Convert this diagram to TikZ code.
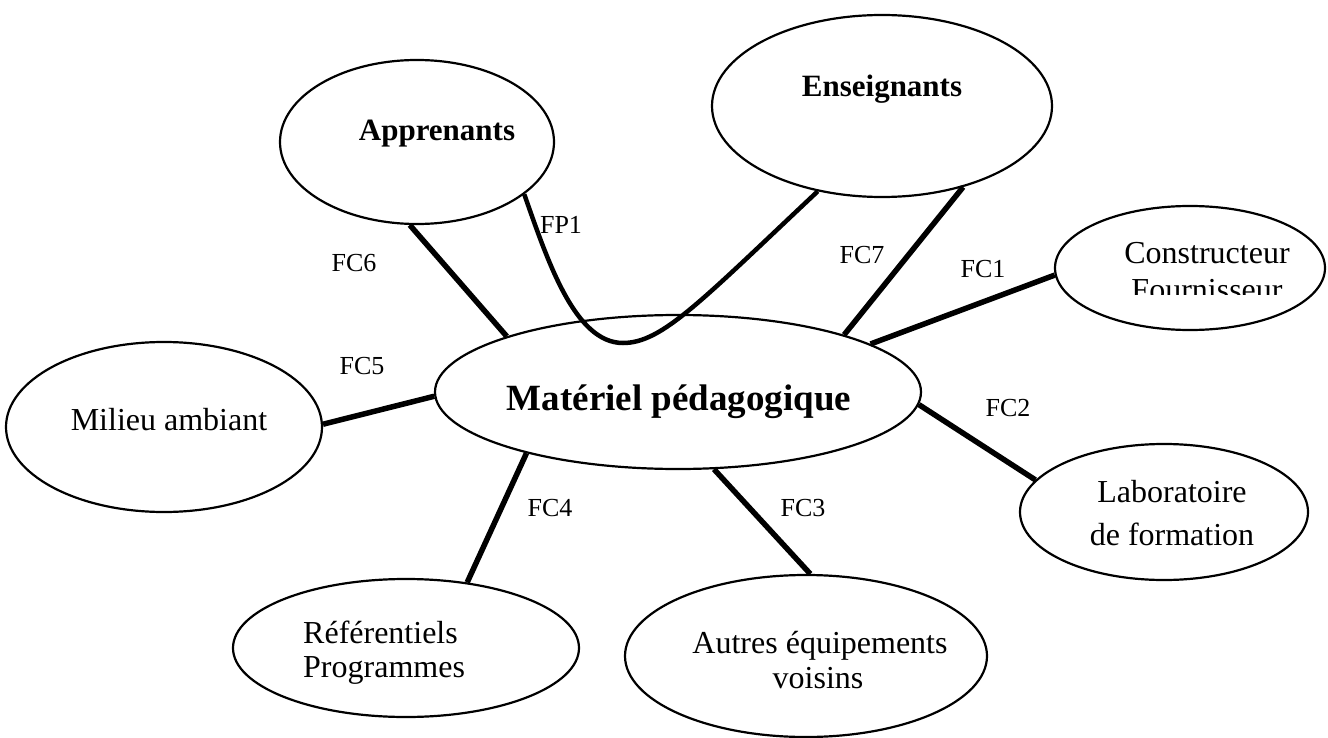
\documentclass[tikz,border=0pt]{standalone}
\usepackage{fontspec}
\setmainfont{Liberation Serif}
\usetikzlibrary{shapes.geometric}
\begin{document}
\begin{tikzpicture}[x=1pt,y=-1pt,
  ell/.style={ellipse, draw, line width=2.2pt, inner sep=0pt},
  conn/.style={line width=5.5pt},
  lbl/.style={font=\fontsize{26}{30}\selectfont, anchor=base, inner sep=0pt},
  txt/.style={font=\fontsize{32}{37}\selectfont, anchor=base, inner sep=0pt},
  btxt/.style={font=\fontsize{31}{36}\selectfont\bfseries, anchor=base, inner sep=0pt}]
\useasboundingbox (0,0) rectangle (1328,738);
% ellipses
\node[ell, minimum width=274pt, minimum height=164pt] (apr) at (417,142) {};
\node[ell, minimum width=340pt, minimum height=182pt] (ens) at (882,106) {};
\node[ell, minimum width=270pt, minimum height=124pt] (con) at (1190,268) {};
\node[ell, minimum width=486pt, minimum height=154pt] (mat) at (678,392) {};
\node[ell, minimum width=316pt, minimum height=170pt] (mil) at (164,427) {};
\node[ell, minimum width=288pt, minimum height=136pt] (lab) at (1164,512) {};
\node[ell, minimum width=346pt, minimum height=138pt] (ref) at (406,648) {};
\node[ell, minimum width=362pt, minimum height=162pt] (aut) at (806,656) {};
% texts
\node[btxt] (tapr) at (437,141) {Apprenants};
\node[btxt] (tens) at (882,97) {Enseignants};
\node[txt] (tcon1) at (1207,263) {Constructeur};
\begin{scope}
  \clip (1050,200) rectangle (1330,294);
  \node[txt] (tcon2) at (1207,300) {Fournisseur};
\end{scope}
\node[font=\fontsize{37}{42}\selectfont\bfseries, anchor=base, inner sep=0pt] (tmat) at (679,410) {Matériel pédagogique};
\node[txt] (tmil) at (169,430) {Milieu ambiant};
\node[txt] (tlab1) at (1172,502) {Laboratoire};
\node[txt] (tlab2) at (1172,545) {de formation};
\node[txt, anchor=base west] (tref1) at (303,643) {Référentiels};
\node[txt, anchor=base west] (tref2) at (303,677) {Programmes};
\node[txt] (taut1) at (820,653) {Autres équipements};
\node[txt] (taut2) at (818,688) {voisins};
% connectors
\coordinate (fplow) at (623,343);
\draw[line width=4.5pt] (apr.334) .. controls (548,262) and (575,343) .. (fplow)
  .. controls (662,343) and (700,302) .. (ens.233);
\draw[conn] (apr.265) -- (mat.162);
\draw[conn] (mil.1.4) -- (mat.181.4);
\draw[conn] (mat.202) -- (ref.47);
\draw[conn] (mat.295.4) -- (aut.87);
\draw[conn] (mat.357) -- (lab.166);
\draw[conn] (mat.14) -- (con.183);
\draw[conn] (ens.315) -- (mat.19.5);
% labels
\node[lbl] (lfp1) at (561,234) {FP1};
\node[lbl] (lfc6) at (354,272) {FC6};
\node[lbl] (lfc5) at (362,374) {FC5};
\node[lbl] (lfc7) at (862,263) {FC7};
\node[lbl] (lfc1) at (983,277) {FC1};
\node[lbl] (lfc2) at (1008,416) {FC2};
\node[lbl] (lfc4) at (550,516) {FC4};
\node[lbl] (lfc3) at (803,516) {FC3};
\end{tikzpicture}
\end{document}
